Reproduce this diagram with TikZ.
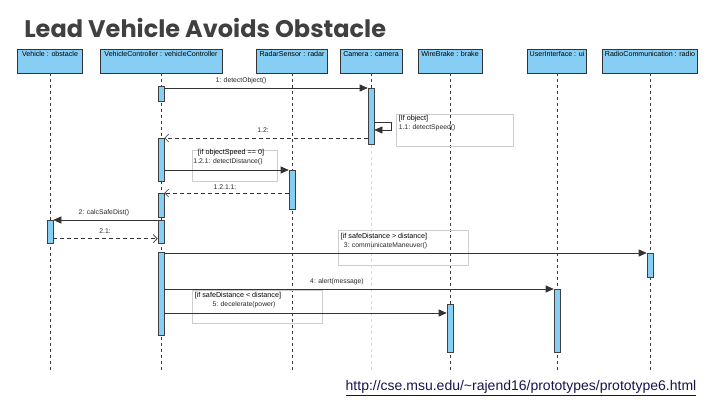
\documentclass[tikz,border=0pt]{standalone}
\usepackage{fontspec}
\setmainfont{Liberation Sans}
\newfontfamily\titlefont{Poppins}
\usetikzlibrary{arrows.meta,calc}
\definecolor{barblue}{RGB}{135,206,245}
\definecolor{lifegray}{RGB}{60,60,60}
\definecolor{framegray}{RGB}{205,205,205}
\definecolor{titlegray}{RGB}{64,64,64}
\definecolor{urlblue}{RGB}{20,20,80}
\tikzset{every picture/.style={line width=0.6pt}}
\tikzset{
  head/.style={draw=black!80, fill=barblue, font=\fontsize{7.1}{8}\selectfont, text height=5pt, text depth=14.5pt, inner ysep=2pt, inner xsep=1pt, anchor=north},
  life/.style={draw=lifegray, dash pattern=on 3pt off 3pt, line width=0.5pt},
  act/.style={draw=black!75, fill=barblue, minimum width=6pt, inner sep=0pt, anchor=north},
  call/.style={draw=black!80, -{Triangle[length=8pt,width=7pt]}},
  ret/.style={draw=black!80, dash pattern=on 4pt off 3pt, -{Straight Barb[length=4pt,width=8pt]}},
  lbl/.style={font=\fontsize{6.8}{7.8}\selectfont, text=black!85, inner sep=0.5pt},
  guard/.style={font=\fontsize{7.2}{8.2}\selectfont, text=black, inner sep=0.5pt},
  frame/.style={draw=framegray, line width=0.6pt}
}

\begin{document}
\begin{tikzpicture}[x=1pt,y=1pt,yscale=-1,xscale=1]
  \useasboundingbox (0,0) rectangle (720,405);

  % Title
  \node[anchor=west, font=\titlefont\bfseries\fontsize{24}{28}\selectfont, text=titlegray, inner sep=0pt] (title) at (24,28) {Lead Vehicle Avoids Obstacle};

  % Lifeline heads
  \node[head, minimum width=65pt] (veh) at (50,49) {Vehicle : obstacle};
  \node[head, minimum width=122pt] (vc) at (161,49) {VehicleController : vehicleController};
  \node[head, minimum width=71pt] (rad) at (292,49) {RadarSensor : radar};
  \node[head, minimum width=62pt] (cam) at (371,49) {Camera : camera};
  \node[head, minimum width=64pt] (wb) at (450,49) {WireBrake : brake};
  \node[head, minimum width=59pt] (ui) at (557,49) {UserInterface : ui};
  \node[head, minimum width=95pt] (rc) at (650,49) {RadioCommunication : radio};

  % Lifeline ends
  \coordinate (vehEnd) at (50,372);
  \coordinate (vcEnd) at (161,372);
  \coordinate (radEnd) at (292,372);
  \coordinate (camEnd) at (371,372);
  \coordinate (wbEnd) at (450,372);
  \coordinate (uiEnd) at (557,372);
  \coordinate (rcEnd) at (650,372);

  % Lifelines
  \draw[life] (veh) -- (vehEnd);
  \draw[life] (vc) -- (vcEnd);
  \draw[life] (rad) -- (radEnd);
  \draw[life] (wb) -- (wbEnd);
  \draw[life] (ui) -- (uiEnd);
  \draw[life] (rc) -- (rcEnd);

  % Combined fragments
  \draw[frame] (396,114) rectangle (513,146);
  \draw[frame] (192,150) rectangle (277,181);
  \draw[frame] (338,230) rectangle (468,265);
  \draw[frame] (192,290) rectangle (322,323);

  % Activations
  \node[act, minimum height=15pt] (vc1) at (161,86) {};
  \node[act, minimum height=43pt] (vc2) at (161,138) {};
  \node[act, minimum height=24pt] (vc3) at (161,193) {};
  \node[act, minimum height=23pt] (vc4) at (161,220) {};
  \node[act, minimum height=83pt] (vc5) at (161,252) {};
  \node[act, minimum height=56pt] (cam1) at (371,88) {};
  \node[act, minimum height=39pt] (rad1) at (292,170) {};
  \node[act, minimum height=23pt] (veh1) at (50,220) {};
  \node[act, minimum height=24pt] (rc1) at (650,253) {};
  \node[act, minimum height=63pt] (ui1) at (557,289) {};
  \node[act, minimum height=48pt] (wb1) at (450,304) {};

  % Camera lifeline
  \draw[life] (cam) -- (cam1.north);
  \draw[life, draw=black!15] (cam1.south) -- (camEnd);

  % Messages
  \draw[call] (vc1.east |- cam1.north) -- (cam1.north west);
  \draw[call] ($(cam1.north east)+(0,34)$) -- ++(17,0) -- ++(0,8) -- ($(cam1.north east)+(0,42)$);
  \draw[ret] (cam1.west |- vc2.north) -- (vc2.north east);
  \draw[call] (vc2.east |- rad1.north) -- (rad1.north west);
  \draw[ret] (rad1.west |- vc3.north) -- (vc3.north east);
  \draw[call] (vc4.north west) -- (veh1.north east);
  \draw[ret] ($(veh1.south east)+(0,-5)$) -- ($(vc4.south west)+(0,-5)$);
  \draw[call] (vc5.east |- rc1.north) -- (rc1.north west);
  \draw[call] (vc5.east |- ui1.north) -- (ui1.north west);
  \draw[call] ($(vc5.east |- wb1.north)+(0,9)$) -- ($(wb1.north west)+(0,9)$);

  % Message labels
  \node[lbl] (t1) at (241,81) {1: detectObject()};
  \node[guard, anchor=west] (g1) at (398,119) {[If object]};
  \node[lbl, anchor=west] (t11) at (398,128) {1.1: detectSpeed()};
  \node[lbl] (t12) at (263,130) {1.2:};
  \node[guard] (g2) at (231,153) {[if objectSpeed == 0]};
  \node[lbl] (t121) at (228,162) {1.2.1: detectDistance()};
  \node[lbl] (t1211) at (225,187) {1.2.1.1:};
  \node[lbl] (t2) at (104,213) {2: calcSafeDist()};
  \node[lbl] (t21) at (105,231) {2.1:};
  \node[guard, anchor=west] (g3) at (340,237) {[if safeDistance \textgreater\ distance]};
  \node[lbl, anchor=west] (t3) at (343,246) {3: communicateManeuver()};
  \node[lbl] (t4) at (337,282) {4: alert(message)};
  \node[guard, anchor=west] (g4) at (194,296) {[if safeDistance \textless\ distance]};
  \node[lbl] (t5) at (244,305) {5: decelerate(power)};

  % Source
  \node[font=\fontsize{14}{16}\selectfont, text=urlblue, inner sep=0pt] (url) at (521,388) {\underline{http://cse.msu.edu/\textasciitilde rajend16/prototypes/prototype6.html}};
\end{tikzpicture}
\end{document}
